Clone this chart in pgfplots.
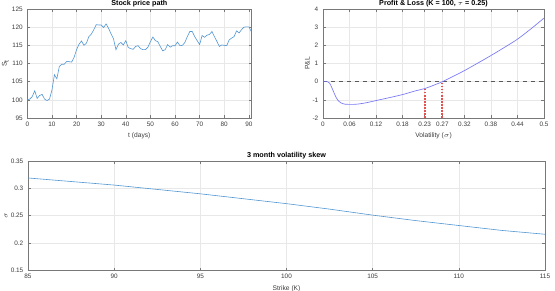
\documentclass[border=0pt]{standalone}
\usepackage{pgfplots}
\pgfplotsset{compat=1.18}
\usepackage{fontspec}
\setmainfont{Liberation Sans}

\definecolor{pathblue}{RGB}{80,150,210}
\definecolor{pnlblue}{RGB}{120,120,245}
\definecolor{strikered}{RGB}{232,80,80}
\definecolor{axgray}{RGB}{120,120,120}
\definecolor{txtgray}{RGB}{60,60,60}

\pgfplotsset{
  mlstyle/.style={
    scale only axis,
    axis line style={axgray, line width=0.4pt},
    tick style={axgray, line width=0.3pt},
    major tick length=2pt,
    tick align=inside,
    grid=major,
    grid style={gray!18, line width=0.3pt},
    tick label style={font=\fontsize{4.8}{5}\selectfont, text=txtgray},
    label style={font=\fontsize{5}{6}\selectfont, text=txtgray},
    every axis title shift=0pt,
    title style={font=\bfseries\fontsize{5.4}{6}\selectfont, inner sep=1pt},
    xticklabel style={yshift=0.5pt},
    xlabel style={yshift=2pt},
    /pgf/number format/assume math mode=true,
    scaled ticks=false,
    clip=true,
  },
  ylabelat/.style={every axis y label/.style={
    at={(axis description cs:#1,0.5)}, rotate=90, anchor=center,
    font=\fontsize{5}{6}\selectfont, text=txtgray}},
}

\begin{document}
\begin{tikzpicture}
% fixed page: 555 x 290 px at 0.75pt per px
\path[use as bounding box] (0,0) rectangle (416.25pt,-217.5pt);

% ---- simulated stock price path ----
\begin{axis}[mlstyle, ylabelat=-0.098,
  at={(20.5pt,-6.75pt)}, anchor=north west,
  width=168pt, height=81.75pt,
  xmin=0, xmax=91, ymin=95, ymax=125,
  xtick={0,10,...,90}, ytick={95,100,...,125},
  title={Stock price path},
  xlabel={t (days)}, ylabel={S$_\mathrm{t}$},
  /pgf/number format/fixed,
]
\addplot[pathblue, line width=0.45pt] table {
x y
0 100.0
1 100.2
2 100.9
3 102.5
4 100.4
5 101.2
6 101.5
7 100.2
8 99.8
9 100.2
10 102.7
11 106.9
12 105.8
13 109.2
14 109.8
15 109.8
16 110.6
17 110.5
18 110.4
19 111.7
20 113.8
21 115.3
22 116.2
23 115.0
24 115.6
25 117.4
26 118.1
27 119.3
28 120.7
29 120.6
30 120.6
31 119.9
32 120.9
33 119.7
34 118.2
35 116.8
36 113.8
37 115.3
38 115.8
39 115.1
40 116.3
41 114.4
42 114.1
43 113.9
44 114.7
45 114.9
46 114.1
47 113.8
48 113.8
49 114.5
50 116.0
51 117.3
52 116.3
53 116.0
54 114.7
55 113.5
56 113.8
57 115.2
58 114.5
59 114.9
60 114.9
61 115.9
62 114.9
63 115.0
64 115.8
65 117.4
66 118.8
67 118.8
68 117.4
69 116.3
70 115.2
71 117.7
72 117.2
73 117.8
74 118.0
75 118.8
76 117.4
77 116.1
78 114.7
79 115.1
80 115.0
81 114.9
82 116.5
83 117.0
84 117.4
85 119.0
86 118.4
87 119.3
88 120.0
89 120.1
90 120.1
91 118.8
};
\end{axis}

% ---- profit and loss against realised volatility ----
\begin{axis}[mlstyle, ylabelat=-0.071,
  at={(242.25pt,-6.75pt)}, anchor=north west,
  width=165.75pt, height=81.75pt,
  xmin=0, xmax=0.5, ymin=-2, ymax=4,
  xtick={0,0.06,0.12,0.18,0.23,0.27,0.32,0.38,0.44,0.5},
  xticklabels={0,0.06,0.12,0.18,0.23,0.27,0.32,0.38,0.44,0.5},
  ytick={-2,-1,...,4},
  title={Profit \& Loss (K = 100, $\tau$ = 0.25)},
  xlabel={Volatility ($\sigma$)}, ylabel={P\&L},
]
\addplot[black!65, dashed, line width=0.4pt] coordinates {(0,0) (0.5,0)};
\addplot[strikered, densely dotted, line width=1.3pt] coordinates {(0.23,-2) (0.23,-0.38)};
\addplot[strikered, densely dotted, line width=1.3pt] coordinates {(0.27,-2) (0.27,0)};
\addplot[pnlblue, line width=0.5pt, smooth] table {
x y
0.000 0.00
0.010 0.00
0.015 -0.08
0.020 -0.33
0.025 -0.62
0.030 -0.88
0.035 -1.06
0.040 -1.16
0.045 -1.21
0.050 -1.24
0.060 -1.25
0.070 -1.25
0.080 -1.23
0.100 -1.15
0.120 -1.04
0.150 -0.88
0.180 -0.71
0.210 -0.50
0.230 -0.38
0.250 -0.20
0.270 0.00
0.300 0.36
0.320 0.61
0.350 1.02
0.380 1.44
0.410 1.88
0.440 2.34
0.470 2.90
0.500 3.50
};
\end{axis}

% ---- implied volatility across strikes ----
\begin{axis}[mlstyle, ylabelat=-0.042,
  at={(21pt,-120.75pt)}, anchor=north west,
  width=387.75pt, height=82pt,
  xmin=85, xmax=115, ymin=0.15, ymax=0.35,
  xtick={85,90,...,115}, ytick={0.15,0.2,0.25,0.3,0.35},
  yticklabels={0.15,0.2,0.25,0.3,0.35},
  title={3 month volatility skew},
  xlabel={Strike (K)}, ylabel={$\sigma$},
]
\addplot[pathblue, line width=0.45pt] table {
x y
85 0.319
87.5 0.3125
90 0.306
92.5 0.298
95 0.290
97.5 0.281
100 0.272
102.5 0.262
105 0.251
107.5 0.241
110 0.232
112.5 0.223
115 0.216
};
\end{axis}
\end{tikzpicture}
\end{document}
